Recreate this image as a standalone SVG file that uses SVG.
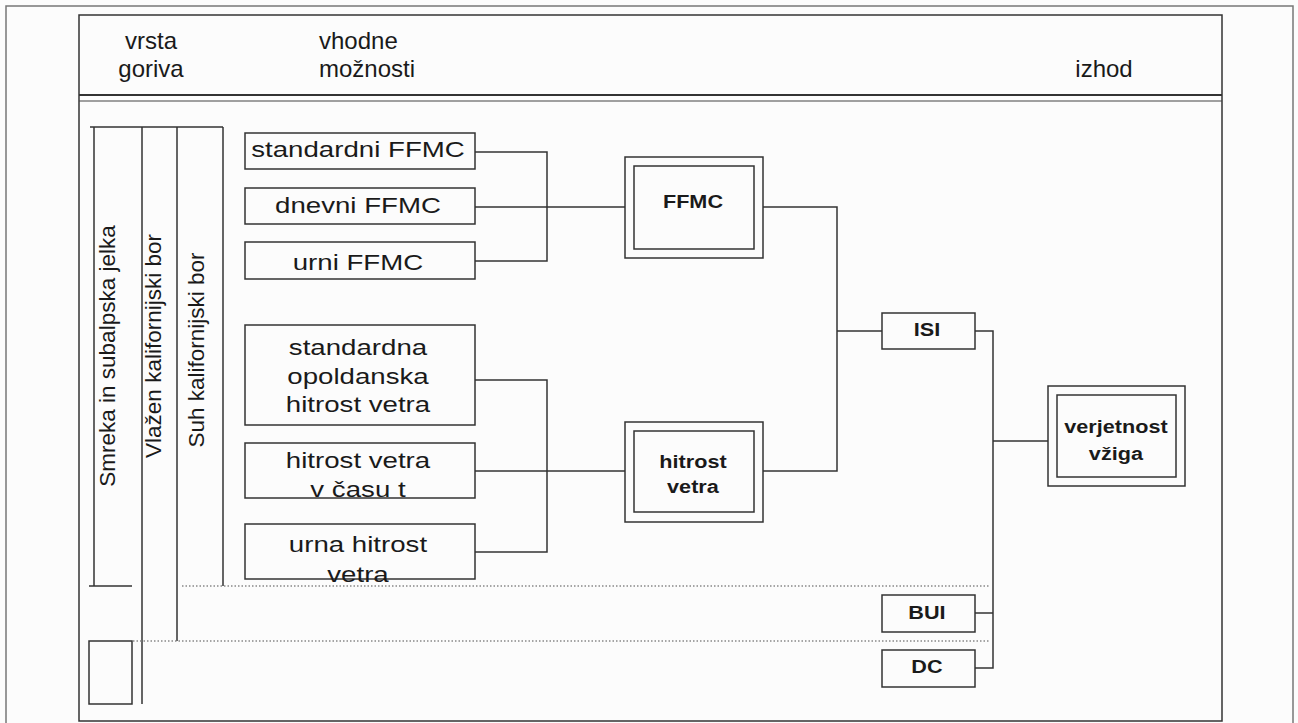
<svg xmlns="http://www.w3.org/2000/svg" width="1298" height="723" viewBox="0 0 1298 723">
<style>
.frame{fill:none;stroke:#777;stroke-width:1.5}
.box{fill:none;stroke:#333;stroke-width:1.5}
.ln{fill:none;stroke:#333;stroke-width:1.5}
.dot{fill:none;stroke:#888;stroke-width:1.3;stroke-dasharray:1.5 2}
.hd{font-family:"Liberation Sans",Arial,sans-serif;font-size:24px;fill:#1a1a1a}
.lbl{font-family:"Liberation Sans",Arial,sans-serif;font-size:22.3px;fill:#1a1a1a;text-anchor:middle;transform-box:fill-box;transform-origin:center;transform:scaleX(1.24)}
.bl{font-family:"Liberation Sans",Arial,sans-serif;font-size:18.5px;font-weight:bold;fill:#1a1a1a;text-anchor:middle;transform-box:fill-box;transform-origin:center;transform:scaleX(1.17)}
.vt{font-family:"Liberation Sans",Arial,sans-serif;font-size:22.5px;fill:#1a1a1a;text-anchor:middle}
</style>
<rect x="0" y="0" width="1298" height="723" fill="#fcfcfc"/>
<rect class="frame" x="6" y="6" width="1287" height="730"/>
<g id="table">
<rect class="box" x="79" y="15" width="1143" height="706"/>
<line x1="79" y1="95" x2="1222" y2="95" stroke="#333" stroke-width="2.2"/>
<line x1="79" y1="101" x2="1222" y2="101" stroke="#444" stroke-width="1.2"/>
<text class="hd" x="151" y="49" text-anchor="middle">vrsta</text>
<text class="hd" x="151" y="77" text-anchor="middle">goriva</text>
<text class="hd" x="319" y="49">vhodne</text>
<text class="hd" x="319" y="77">možnosti</text>
<text class="hd" x="1104" y="77" text-anchor="middle">izhod</text>
</g>
<g id="fuel-types">
<line class="ln" x1="90" y1="127" x2="223" y2="127"/>
<line class="ln" x1="94" y1="127" x2="94" y2="586"/>
<line class="ln" x1="89" y1="586" x2="132" y2="586"/>
<line class="ln" x1="142" y1="127" x2="142" y2="704"/>
<line class="ln" x1="177" y1="127" x2="177" y2="641"/>
<line class="ln" x1="223" y1="127" x2="223" y2="586"/>
<rect class="box" x="89" y="641" width="43" height="63"/>
<line class="dot" x1="182" y1="586" x2="990" y2="586"/>
<line class="dot" x1="133" y1="641" x2="990" y2="641"/>
<text class="vt" transform="translate(115,356) rotate(-90)">Smreka in subalpska jelka</text>
<text class="vt" transform="translate(161,346) rotate(-90)">Vlažen kalifornijski bor</text>
<text class="vt" transform="translate(204,350) rotate(-90)">Suh kalifornijski bor</text>
</g>
<g id="connectors">
<polyline class="ln" points="475,152 547,152 547,261 475,261"/>
<line class="ln" x1="475" y1="207" x2="625" y2="207"/>
<polyline class="ln" points="475,380 547,380 547,552 475,552"/>
<line class="ln" x1="475" y1="471" x2="625" y2="471"/>
<polyline class="ln" points="763,207 837,207 837,471 763,471"/>
<line class="ln" x1="837" y1="331" x2="882" y2="331"/>
<polyline class="ln" points="975,331 993,331 993,668 975,668"/>
<line class="ln" x1="975" y1="613" x2="993" y2="613"/>
<line class="ln" x1="993" y1="441" x2="1048" y2="441"/>
</g>
<g id="standardni-ffmc"><rect class="box" x="245" y="133" width="230" height="36"/><text class="lbl" x="358" y="157">standardni FFMC</text></g>
<g id="dnevni-ffmc"><rect class="box" x="245" y="188" width="230" height="36"/><text class="lbl" x="358" y="213">dnevni FFMC</text></g>
<g id="urni-ffmc"><rect class="box" x="245" y="242" width="230" height="37"/><text class="lbl" x="358" y="270">urni FFMC</text></g>
<g id="standardna-hitrost"><rect class="box" x="245" y="325" width="230" height="100"/><text class="lbl" x="358" y="355">standardna</text><text class="lbl" x="358" y="384">opoldanska</text><text class="lbl" x="358" y="412">hitrost vetra</text></g>
<g id="hitrost-cas"><rect class="box" x="245" y="443" width="230" height="55"/><text class="lbl" x="358" y="468">hitrost vetra</text><text class="lbl" x="358" y="497">v času t</text></g>
<g id="urna-hitrost"><rect class="box" x="245" y="524" width="230" height="55"/><text class="lbl" x="358" y="552">urna hitrost</text><text class="lbl" x="358" y="582">vetra</text></g>
<g id="ffmc"><rect class="box" x="625" y="157" width="138" height="101"/><rect class="box" x="634" y="166" width="120" height="83"/><text class="bl" x="693" y="208">FFMC</text></g>
<g id="hitrost-vetra"><rect class="box" x="625" y="422" width="138" height="100"/><rect class="box" x="634" y="431" width="120" height="81"/><text class="bl" x="693" y="468">hitrost</text><text class="bl" x="693" y="493">vetra</text></g>
<g id="isi"><rect class="box" x="882" y="313" width="93" height="36"/><text class="bl" x="927" y="336">ISI</text></g>
<g id="bui"><rect class="box" x="882" y="595" width="93" height="37"/><text class="bl" x="927" y="619">BUI</text></g>
<g id="dc"><rect class="box" x="882" y="650" width="93" height="37"/><text class="bl" x="927" y="673">DC</text></g>
<g id="verjetnost"><rect class="box" x="1048" y="386" width="137" height="100"/><rect class="box" x="1057" y="395" width="119" height="82"/><text class="bl" x="1116" y="433">verjetnost</text><text class="bl" x="1116" y="460">vžiga</text></g>
</svg>
